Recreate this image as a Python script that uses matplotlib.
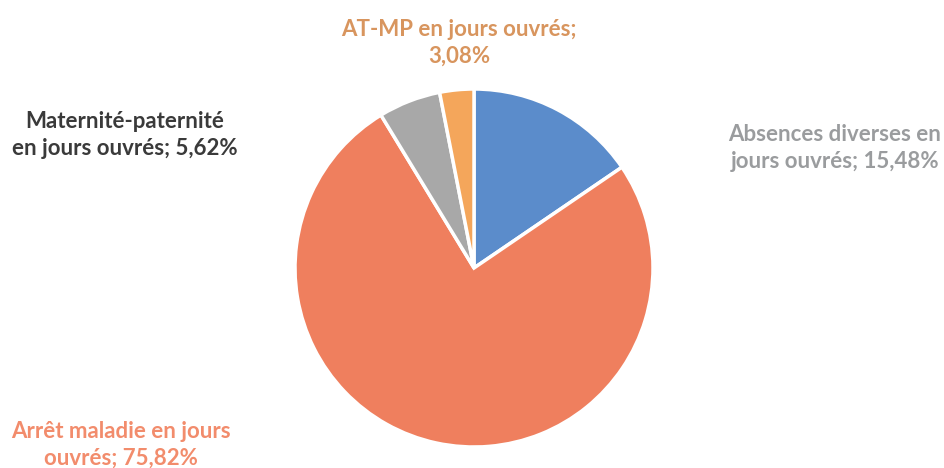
import matplotlib.pyplot as plt

# Répartition des absences (en jours ouvrés)
categories = ["Absences diverses", "Arrêt maladie", "Maternité-paternité", "AT-MP"]
parts = [15.48, 75.82, 5.62, 3.08]
couleurs = ["#5b8ccb", "#ef7f5e", "#a8a8a8", "#f4a65b"]
couleurs_texte = ["#9a9c9e", "#f28c6c", "#3a3a3a", "#d8955e"]

# texte des étiquettes, ligne de coupure propre à chacune
gabarits = [
    "{nom} en\njours ouvrés; {val}",
    "{nom} en jours\nouvrés; {val}",
    "{nom}\nen jours ouvrés; {val}",
    "{nom} en jours ouvrés;\n{val}",
]
# position des étiquettes (pixels, origine en haut à gauche)
pos_etiquettes = [(835, 148), (121, 445), (125, 135), (459, 43)]

W, H = 944, 468
CX, CY, R = 474, 268, 179


def px(x, y):
    return (x - CX) / R, (CY - y) / R


fig = plt.figure(figsize=(W / 100, H / 100), dpi=100)
ax = fig.add_axes([0, 0, 1, 1])

ax.pie(parts, colors=couleurs, startangle=90, counterclock=False, radius=1,
       wedgeprops=dict(edgecolor="white", linewidth=2.5))

# même échelle en x et y : un pixel = 1/R unité
ax.set_aspect("auto")
ax.set_xlim(-CX / R, (W - CX) / R)
ax.set_ylim(-(H - CY) / R, CY / R)
ax.axis("off")

for nom, val, gab, coul, (x, y) in zip(categories, parts, gabarits, couleurs_texte, pos_etiquettes):
    texte = gab.format(nom=nom, val=f"{val:.2f}".replace(".", ",") + "%")
    tx, ty = px(x, y)
    ax.text(tx, ty, texte, ha="center", va="center", color=coul,
            fontsize=16, fontweight="bold", family="Lato", linespacing=1.3)

fig.savefig("out.png", dpi=100, facecolor="white")
